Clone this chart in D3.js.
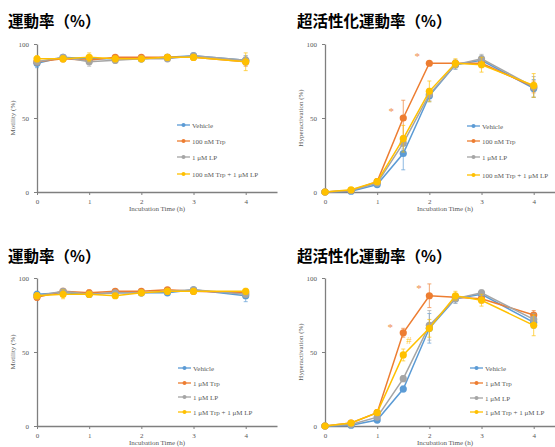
<!DOCTYPE html>
<html>
<head>
<meta charset="utf-8">
<title>Motility / Hyperactivation</title>
<script src="https://cdn.jsdelivr.net/npm/d3@7"></script>
<style>
  body { margin: 0; background: #ffffff; }
  svg { display: block; }
  .title { font-family: "Noto Sans CJK JP", sans-serif; font-weight: bold; fill: #000; }
  .tick text, .lbl, .leg { font-family: "Liberation Serif", "Times New Roman", serif; fill: #595959; }
</style>
</head>
<body>
<div id="chart"></div>
<script>
// ---- data ----
const hours = [0, 0.5, 1, 1.5, 2, 2.5, 3, 4];
const xTicks = [0, 1, 2, 3, 4];
const yTicks = [0, 50, 100];
const colors = ["#5B9BD5", "#ED7D31", "#A5A5A5", "#FFC000"];

const names100 = ["Vehicle", "100 nM Trp", "1 μM LP", "100 nM Trp + 1 μM LP"];
const names1 = ["Vehicle", "1 μM Trp", "1 μM LP", "1 μM Trp + 1 μM LP"];

// motility, 100 nM Trp set
const motVeh100   = [87, 91, 90, 90, 90, 91, 92, 89];
const motTrp100   = [88, 90, 89, 91, 91, 91, 91, 88];
const motLP100    = [88, 91, 88, 89, 90, 90, 92, 89];
const motCombo100 = [90, 90, 91, 90, 90, 91, 91, 88];
const motErr100 = [[3, 1, 2, 2, 1, 1, 2, 3], [2, 1, 2, 1, 1, 1, 1, 3], [2, 1, 3, 2, 1, 1, 1, 3], [2, 2, 3, 2, 1, 2, 2, 6]];

// hyperactivation, 100 nM Trp set
const hypVeh100   = [0, 0.5, 5, 26, 65, 86, 89, 70];
const hypTrp100   = [0, 1, 7, 50, 87, 87, 87, 71];
const hypLP100    = [0, 1, 6, 33, 66, 86, 90, 71];
const hypCombo100 = [0, 1.5, 7, 36, 68, 87, 86, 72];
const hypErr100 = [[0, 0.5, 1, 11, 4, 3, 3, 6], [0, 0.5, 1.5, 12, 1, 2, 3, 4], [0, 0.5, 1, 4, 4, 3, 3, 7], [0, 1, 1.5, 9, 7, 3, 5, 8]];
const sig100 = [{ x: 1.27, y: 55, t: "*", c: 1 }, { x: 1.77, y: 92, t: "*", c: 1 }];

// motility, 1 uM Trp set
const motVeh1   = [89, 90, 89, 90, 90, 90, 92, 88];
const motTrp1   = [87, 91, 90, 91, 91, 92, 91, 90];
const motLP1    = [88, 91, 89, 90, 90, 91, 92, 89];
const motCombo1 = [88, 89, 89, 88, 90, 91, 91, 91];
const motErr1 = [[2, 1, 1, 1, 1, 1, 1, 4], [2, 2, 2, 1, 1, 1, 1, 2], [2, 1, 2, 1, 1, 1, 1, 2], [2, 3, 2, 1, 1, 2, 1, 2]];

// hyperactivation, 1 uM Trp set
const hypVeh1   = [0, 0.5, 4, 25, 66, 86, 89, 70];
const hypTrp1   = [0, 2, 9, 63, 88, 87, 86, 75];
const hypLP1    = [0, 1, 6, 32, 68, 86, 90, 72];
const hypCombo1 = [0, 2, 9, 48, 66, 88, 85, 68];
const hypErr1 = [[0, 0.5, 1, 2, 10, 3, 2, 4], [0, 1, 1, 3, 8, 2, 3, 3], [0, 0.5, 1, 2, 10, 3, 2, 4], [0, 1, 1, 4, 6, 3, 4, 7]];
const sig1 = [{ x: 1.25, y: 67, t: "*", c: 1 }, { x: 1.8, y: 93, t: "*", c: 1 }, { x: 1.61, y: 58, t: "#", c: 3 }];

const W = 555, H = 447;
const svg = d3.select("#chart").append("svg").attr("width", W).attr("height", H);

const panels = [
  { title: "運動率（%）", tx: 8, ty: 27, left: 37, top: 44, bottom: 192, ylab: "Motility (%)",
    series: [motVeh100, motTrp100, motLP100, motCombo100], err: motErr100, names: names100, sig: [], legX: 177, legY: [125, 141, 157, 174] },
  { title: "超活性化運動率（%）", tx: 297, ty: 27, left: 325, top: 44, bottom: 192, ylab: "Hyperactivation (%)",
    series: [hypVeh100, hypTrp100, hypLP100, hypCombo100], err: hypErr100, names: names100, sig: sig100, legX: 467, legY: [126, 141, 157, 175] },
  { title: "運動率（%）", tx: 8, ty: 262, left: 37, top: 278, bottom: 426, ylab: "Motility (%)",
    series: [motVeh1, motTrp1, motLP1, motCombo1], err: motErr1, names: names1, sig: [], legX: 178, legY: [368, 383, 397, 412] },
  { title: "超活性化運動率（%）", tx: 297, ty: 262, left: 325, top: 278, bottom: 426, ylab: "Hyperactivation (%)",
    series: [hypVeh1, hypTrp1, hypLP1, hypCombo1], err: hypErr1, names: names1, sig: sig1, legX: 470, legY: [368, 383, 398, 412] }
];

panels.forEach(p => {
  const g = svg.append("g");
  const x = d3.scaleLinear().domain([0, 4.6]).range([p.left, p.left + 240]);
  const y = d3.scaleLinear().domain([0, 100]).range([p.bottom, p.top]);

  g.append("text").attr("class", "title").attr("x", p.tx).attr("y", p.ty)
    .style("font-size", "15.5px").text(p.title);

  // axes
  const ax = g.append("g").attr("transform", `translate(0,${p.bottom})`)
    .call(d3.axisBottom(x).tickValues(xTicks).tickSize(3).tickSizeOuter(0).tickFormat(d3.format("d")));
  const ay = g.append("g").attr("transform", `translate(${p.left},0)`)
    .call(d3.axisLeft(y).tickValues(yTicks).tickSize(3).tickSizeOuter(0));
  [ax, ay].forEach(a => {
    a.select(".domain").attr("stroke", "#7f7f7f").attr("stroke-width", 1.3);
    a.selectAll(".tick line").attr("stroke", "#7f7f7f");
    a.selectAll(".tick text").style("font-size", "7px");
  });
  ax.selectAll(".tick text").attr("dy", "0.9em");
  ay.selectAll(".tick text").attr("x", -8);

  g.append("text").attr("class", "lbl").attr("text-anchor", "middle")
    .attr("x", p.left + 120).attr("y", p.bottom + 19).style("font-size", "7px")
    .text("Incubation Time (h)");
  g.append("text").attr("class", "lbl").attr("text-anchor", "middle")
    .attr("transform", `translate(${p.left - 22},${(p.top + p.bottom) / 2}) rotate(-90)`)
    .style("font-size", "7px").text(p.ylab);

  const line = d3.line().x((d, i) => x(hours[i])).y(d => y(d));

  p.series.forEach((vals, s) => {
    const col = colors[s];
    const eg = g.append("g").attr("stroke", col).attr("stroke-width", 0.8).attr("opacity", 0.85);
    vals.forEach((v, i) => {
      const e = p.err[s][i];
      if (e <= 0.5) return;
      const cx = x(hours[i]);
      eg.append("line").attr("x1", cx).attr("x2", cx).attr("y1", y(v - e)).attr("y2", y(v + e));
      eg.append("line").attr("x1", cx - 2).attr("x2", cx + 2).attr("y1", y(v - e)).attr("y2", y(v - e));
      eg.append("line").attr("x1", cx - 2).attr("x2", cx + 2).attr("y1", y(v + e)).attr("y2", y(v + e));
    });
    g.append("path").datum(vals).attr("d", line).attr("fill", "none")
      .attr("stroke", col).attr("stroke-width", 1.5);
    g.selectAll(null).data(vals).enter().append("circle")
      .attr("cx", (d, i) => x(hours[i])).attr("cy", d => y(d)).attr("r", 3.6).attr("fill", col);
  });

  p.sig.forEach(m => {
    g.append("text").attr("x", x(m.x)).attr("y", y(m.y) + 4).attr("text-anchor", "middle")
      .style("font-family", "Liberation Serif, serif").style("font-size", "11px")
      .attr("fill", colors[m.c]).attr("opacity", 0.85).text(m.t);
  });

  // legend
  p.names.forEach((n, s) => {
    const ly = p.legY[s];
    g.append("line").attr("x1", p.legX).attr("x2", p.legX + 13).attr("y1", ly).attr("y2", ly)
      .attr("stroke", colors[s]).attr("stroke-width", 1.3);
    g.append("circle").attr("cx", p.legX + 6.5).attr("cy", ly).attr("r", 2).attr("fill", colors[s]);
    g.append("text").attr("class", "leg").attr("x", p.legX + 15).attr("y", ly + 2.5)
      .style("font-size", "7px").text(n);
  });
});
</script>
</body>
</html>
